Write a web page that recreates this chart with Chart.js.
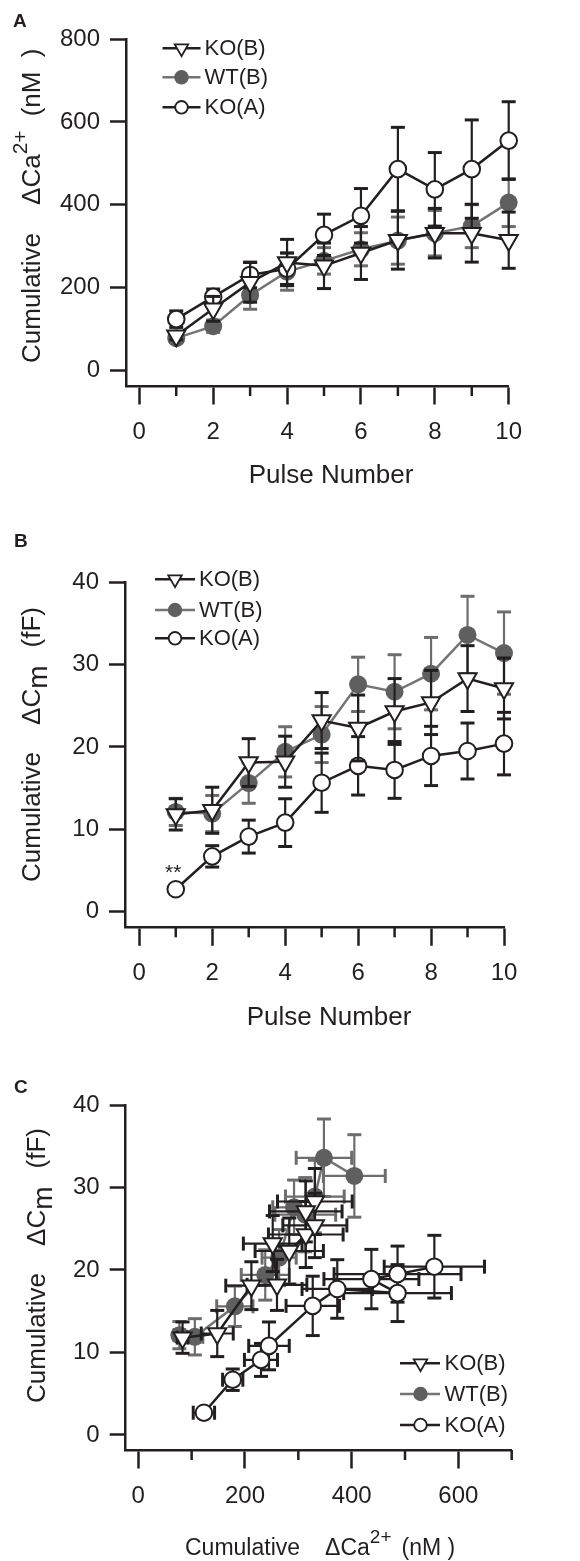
<!DOCTYPE html>
<html><head><meta charset="utf-8">
<script src="https://cdn.jsdelivr.net/npm/chart.js@4.4.1/dist/chart.umd.min.js"></script>
<style>
html,body{margin:0;padding:0;background:#fff;}
body{width:580px;height:1561px;position:relative;overflow:hidden;font-family:"Liberation Sans",Arial,Helvetica,sans-serif;color:#231f20;}
canvas{position:absolute;left:0;}
.lbl{position:absolute;font-weight:bold;font-size:19px;line-height:19px;}
.title{position:absolute;white-space:nowrap;font-size:26px;line-height:30px;}
.rot{transform-origin:0 0;transform:rotate(-90deg);}
.sup{font-size:21px;position:relative;top:-13px;}
.sub{font-size:28px;position:relative;top:7px;}
.xt{font-size:23px;}
.xt .sup{font-size:19px;top:-12px;}
</style></head><body>
<canvas id="cA" width="580" height="520" style="top:0"></canvas>
<canvas id="cB" width="580" height="520" style="top:520px"></canvas>
<canvas id="cC" width="580" height="521" style="top:1040px"></canvas>

<div class="lbl" style="left:13px;top:10.6px">A</div>
<div class="lbl" style="left:14px;top:530.6px">B</div>
<div class="lbl" style="left:14px;top:1077px">C</div>

<div class="title rot" style="left:16.3px;top:363.3px">Cumulative<span style="margin-left:28px">&Delta;Ca</span><span class="sup">2+</span><span style="margin-left:14px">(nM&nbsp;&nbsp;)</span></div>
<div class="title" style="left:331px;top:459px;transform:translateX(-50%)">Pulse Number</div>

<div class="title rot" style="left:16.3px;top:881.7px">Cumulative<span style="margin-left:27px">&Delta;C</span><span class="sub">m</span><span style="margin-left:18px">(fF)</span></div>
<div class="title" style="left:329px;top:1001px;transform:translateX(-50%)">Pulse Number</div>

<div class="title rot" style="left:21.3px;top:1403.3px">Cumulative<span style="margin-left:27px">&Delta;C</span><span class="sub">m</span><span style="margin-left:18px">(fF)</span></div>
<div class="title xt" style="left:185px;top:1532px">Cumulative<span style="margin-left:25px">&Delta;Ca</span><span class="sup">2+</span><span style="margin-left:10px">(nM )</span></div>

<script>
const INK = '#231f20';
const GREY_LINE = '#747474';
const GREY_FILL = '#5f5f5f';
const GREY_ERR = '#6d6d6d';

// ---- data ----
const pulses = [1, 2, 3, 4, 5, 6, 7, 8, 9, 10];
const seriesNames = ['KO(B)', 'WT(B)', 'KO(A)'];

// Panel A: cumulative ΔCa2+ (nM), mean and error
const caKOB    = [83, 148, 212, 260, 252, 283, 314, 331, 331, 314];
const caKOBerr = [10, 30, 48, 56, 55, 64, 70, 60, 70, 68];
const caWTB    = [77, 106, 181, 238, 264, 292, 313, 331, 348, 405];
const caWTBerr = [10, 15, 34, 45, 32, 40, 57, 55, 52, 58];
const caKOA    = [123, 177, 230, 245, 327, 373, 486, 437, 486, 555];
const caKOAerr = [20, 19, 31, 38, 50, 66, 101, 89, 119, 94];

// Panel B: cumulative ΔCm (fF), mean and error
const cmKOB    = [11.8, 12.3, 18.1, 18.2, 23.2, 22.3, 24.3, 25.4, 28.3, 27.1];
const cmKOBerr = [1.9, 2.8, 2.9, 3.1, 3.4, 4.0, 4.0, 3.9, 4.0, 3.7];
const cmWTB    = [12.1, 11.9, 15.6, 19.4, 21.5, 27.6, 26.7, 28.9, 33.6, 31.4];
const cmWTBerr = [1.65, 2.2, 2.45, 3.05, 3.4, 3.3, 4.5, 4.4, 4.7, 5.0];
const cmKOA    = [2.7, 6.7, 9.1, 10.8, 15.65, 17.7, 17.2, 18.9, 19.5, 20.4];
const cmKOAerr = [0, 1.3, 2.0, 2.9, 3.6, 3.55, 3.45, 3.6, 3.4, 3.8];

// ticks
const ticksPulse = [0, 2, 4, 6, 8, 10];
const minorPulse = [1, 3, 5, 7, 9];
const ticksCa = [0, 200, 400, 600, 800];
const ticksCm = [0, 10, 20, 30, 40];
const ticksCaX = [0, 200, 400, 600];
const minorCaX = [100, 300, 500, 700];
const noteText = '**';

// ---- styles ----
const FONT = '"Liberation Sans", Arial, Helvetica, sans-serif';
Chart.defaults.font.family = FONT;
Chart.defaults.font.size = 24;
Chart.defaults.color = INK;

function pts(xs, ys) { return xs.map((x, i) => ({ x: x, y: ys[i] })); }

function dsKOB(data, errX, errY) {
  return { label: seriesNames[0], data, errX, errY, order: 0, clip: false,
    borderColor: INK, borderWidth: 2.5, tension: 0, fill: false,
    pointStyle: 'triangle', pointRotation: 180, pointRadius: 10.5, pointBorderWidth: 2,
    pointBackgroundColor: '#ffffff', pointBorderColor: INK, errColor: INK, key: 'tri' };
}
function dsWTB(data, errX, errY) {
  return { label: seriesNames[1], data, errX, errY, order: 2, clip: false,
    borderColor: GREY_LINE, borderWidth: 2.5, tension: 0, fill: false,
    pointStyle: 'circle', pointRadius: 9, pointBorderWidth: 0,
    pointBackgroundColor: GREY_FILL, pointBorderColor: GREY_FILL, errColor: GREY_ERR, key: 'fill' };
}
function dsKOA(data, errX, errY) {
  return { label: seriesNames[2], data, errX, errY, order: 1, clip: false,
    borderColor: INK, borderWidth: 2.5, tension: 0, fill: false,
    pointStyle: 'circle', pointRadius: 8.3, pointBorderWidth: 2,
    pointBackgroundColor: '#ffffff', pointBorderColor: INK, errColor: INK, key: 'open' };
}

function seg(ctx, x1, y1, x2, y2) { ctx.beginPath(); ctx.moveTo(x1, y1); ctx.lineTo(x2, y2); ctx.stroke(); }

const errorBarPlugin = {
  id: 'errorBars',
  beforeDatasetDraw(chart, args) {
    const ds = chart.data.datasets[args.index];
    const xs = chart.scales.x, ys = chart.scales.y, ctx = chart.ctx;
    const cap = 7;
    ctx.save();
    ctx.strokeStyle = ds.errColor;
    ctx.lineCap = 'butt';
    args.meta.data.forEach((pt, i) => {
      const v = ds.data[i];
      if (ds.errY && ds.errY[i] > 0) {
        const y1 = ys.getPixelForValue(v.y + ds.errY[i]);
        const y2 = ys.getPixelForValue(v.y - ds.errY[i]);
        ctx.lineWidth = 2.2; seg(ctx, pt.x, y1, pt.x, y2);
        ctx.lineWidth = 3; seg(ctx, pt.x - cap, y1, pt.x + cap, y1); seg(ctx, pt.x - cap, y2, pt.x + cap, y2);
      }
      if (ds.errX && ds.errX[i] > 0) {
        const x1 = xs.getPixelForValue(v.x - ds.errX[i]);
        const x2 = xs.getPixelForValue(v.x + ds.errX[i]);
        ctx.lineWidth = 2.2; seg(ctx, x1, pt.y, x2, pt.y);
        ctx.lineWidth = 3; seg(ctx, x1, pt.y - cap, x1, pt.y + cap); seg(ctx, x2, pt.y - cap, x2, pt.y + cap);
      }
    });
    ctx.restore();
  }
};

const minorTickPlugin = {
  id: 'minorTicks',
  afterDraw(chart, args, o) {
    if (!o || !o.values) return;
    const ctx = chart.ctx, xs = chart.scales.x, b = chart.chartArea.bottom;
    ctx.save(); ctx.strokeStyle = INK; ctx.lineWidth = 2.5;
    o.values.forEach(v => { const px = xs.getPixelForValue(v); seg(ctx, px, b, px, b + o.len); });
    ctx.restore();
  }
};

function keyMarker(ctx, ds, x, y) {
  ctx.save();
  if (ds.key === 'tri') {
    const r = 7.8;
    ctx.beginPath();
    ctx.moveTo(x, y + r);
    ctx.lineTo(x - 0.866 * r, y - 0.5 * r);
    ctx.lineTo(x + 0.866 * r, y - 0.5 * r);
    ctx.closePath();
    ctx.fillStyle = '#fff'; ctx.fill();
    ctx.lineWidth = 1.8; ctx.strokeStyle = INK; ctx.stroke();
  } else if (ds.key === 'fill') {
    ctx.beginPath(); ctx.arc(x, y, 7.2, 0, Math.PI * 2);
    ctx.fillStyle = GREY_FILL; ctx.fill();
  } else {
    ctx.beginPath(); ctx.arc(x, y, 6.3, 0, Math.PI * 2);
    ctx.fillStyle = '#fff'; ctx.fill();
    ctx.lineWidth = 1.8; ctx.strokeStyle = INK; ctx.stroke();
  }
  ctx.restore();
}

const keyPlugin = {
  id: 'seriesKey',
  afterDraw(chart, args, o) {
    const ctx = chart.ctx;
    ctx.save();
    chart.data.datasets.forEach((ds, i) => {
      const y = o.rows[i];
      ctx.strokeStyle = ds.borderColor; ctx.lineWidth = 2.5;
      seg(ctx, o.x1, y, o.x2, y);
      keyMarker(ctx, ds, o.xm, y);
      ctx.fillStyle = INK; ctx.font = '22px ' + FONT;
      ctx.textBaseline = 'middle'; ctx.textAlign = 'left';
      ctx.fillText(ds.label, o.xt, y + 1);
    });
    ctx.restore();
  }
};

const notePlugin = {
  id: 'note',
  afterDraw(chart, args, o) {
    if (!o || !o.text) return;
    const ctx = chart.ctx;
    const px = chart.scales.x.getPixelForValue(o.x) + o.dx;
    const py = chart.scales.y.getPixelForValue(o.y) + o.dy;
    ctx.save(); ctx.fillStyle = INK; ctx.font = '21px ' + FONT;
    ctx.textAlign = 'center'; ctx.textBaseline = 'alphabetic';
    ctx.fillText(o.text, px, py);
    ctx.restore();
  }
};

function makeChart(id, p) {
  return new Chart(document.getElementById(id), {
    type: 'line',
    data: { datasets: p.datasets },
    options: {
      responsive: false, animation: false, events: [],
      layout: { padding: p.padding },
      plugins: {
        legend: { display: false }, tooltip: { enabled: false },
        seriesKey: p.key,
        minorTicks: { values: p.minor, len: 10 },
        note: p.note || {}
      },
      scales: {
        x: {
          type: 'linear', min: p.xMin, max: p.xMax,
          afterBuildTicks: s => { s.ticks = p.xTicks.map(v => ({ value: v })); },
          afterFit: s => { s.height = 60; },
          grid: { drawOnChartArea: false, drawTicks: true, tickLength: 18.5, tickWidth: 2.5, tickColor: INK },
          border: { display: true, color: INK, width: 2.5 },
          ticks: { padding: 13, color: INK, font: { size: 24 }, maxRotation: 0, autoSkip: false }
        },
        y: {
          type: 'linear', min: p.yMin, max: p.yMax,
          afterBuildTicks: s => { s.ticks = p.yTicks.map(v => ({ value: v })); },
          afterFit: s => { s.width = p.axisLeft; },
          grid: { drawOnChartArea: false, drawTicks: true, tickLength: 16, tickWidth: 2.5, tickColor: INK },
          border: { display: true, color: INK, width: 2.5 },
          ticks: { padding: 10, color: INK, font: { size: 24 }, autoSkip: false }
        }
      }
    },
    plugins: [errorBarPlugin, minorTickPlugin, keyPlugin, notePlugin]
  });
}

// Panel A
makeChart('cA', {
  datasets: [
    dsKOB(pts(pulses, caKOB), null, caKOBerr),
    dsWTB(pts(pulses, caWTB), null, caWTBerr),
    dsKOA(pts(pulses, caKOA), null, caKOAerr)
  ],
  axisLeft: 126,
  padding: { left: 0, top: 39.3, right: 71.3, bottom: 74 },
  xMin: -0.36, xMax: 10, xTicks: ticksPulse, minor: minorPulse,
  yMin: -38.7, yMax: 800, yTicks: ticksCa,
  key: { rows: [48.3, 77.3, 107.3], x1: 162.5, x2: 200.5, xm: 181.5, xt: 204.5 }
});

// Panel B
makeChart('cB', {
  datasets: [
    dsKOB(pts(pulses, cmKOB), null, cmKOBerr),
    dsWTB(pts(pulses, cmWTB), null, cmWTBerr),
    dsKOA(pts(pulses, cmKOA), null, cmKOAerr)
  ],
  axisLeft: 125,
  padding: { left: 0, top: 62.3, right: 76, bottom: 52.7 },
  xMin: -0.392, xMax: 10, xTicks: ticksPulse, minor: minorPulse,
  yMin: -1.92, yMax: 40, yTicks: ticksCm,
  key: { rows: [59.3, 90, 118.3], x1: 155, x2: 195, xm: 175, xt: 199 },
  note: { text: noteText, x: pulses[0], y: cmKOA[0], dx: -2.5, dy: -10 }
});

// Panel C
makeChart('cC', {
  datasets: [
    dsKOB(pts(caKOB, cmKOB), caKOBerr, cmKOBerr),
    dsWTB(pts(caWTB, cmWTB), caWTBerr, cmWTBerr),
    dsKOA(pts(caKOA, cmKOA), caKOAerr, cmKOAerr)
  ],
  axisLeft: 125.7,
  padding: { left: 0, top: 65, right: 68.3, bottom: 51 },
  xMin: -23.6, xMax: 700, xTicks: ticksCaX, minor: minorCaX,
  yMin: -1.82, yMax: 40, yTicks: ticksCm,
  key: { rows: [323.3, 354, 385], x1: 400, x2: 440, xm: 420.5, xt: 444.5 }
});
</script>
</body></html>
